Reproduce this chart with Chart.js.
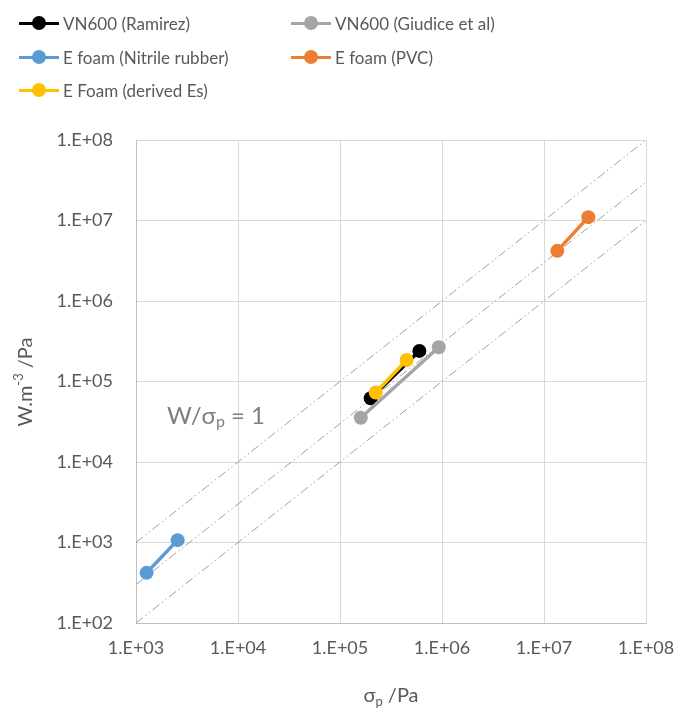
<!DOCTYPE html>
<html>
<head>
<meta charset="utf-8">
<script src="https://cdn.jsdelivr.net/npm/chart.js@4/dist/chart.umd.min.js"></script>
<style>
  html, body { margin: 0; padding: 0; background: #fff; }
  #wrap { position: relative; width: 683px; height: 709px; }
  #legend { position: absolute; left: 0; top: 0; width: 683px; height: 110px; font-family: Lato, "Open Sans", sans-serif; font-size: 17px; color: #595959; }
  .item { position: absolute; height: 20px; display: flex; align-items: center; }
  .mk { position: relative; width: 40px; height: 20px; margin-right: 4px; }
  .mk .ln { position: absolute; left: 0; right: 0; top: 8.5px; height: 3px; }
  .mk .dt { position: absolute; left: 13px; top: 3px; width: 14px; height: 14px; border-radius: 50%; }
</style>
</head>
<body>
<div id="wrap">
  <canvas id="c" width="683" height="709"></canvas>
  <div id="legend"></div>
</div>
<script>
// ---- data ----
const seriesNames = ['VN600 (Ramirez)', 'VN600 (Giudice et al)', 'E foam (Nitrile rubber)', 'E foam (PVC)', 'E Foam (derived Es)'];
const seriesColors = ['#000000', '#a5a5a5', '#5b9bd5', '#ed7d31', '#ffc000'];

const ramirezX = [2.0e5, 6.0e5];
const ramirezY = [6.2e4, 2.4e5];
const giudiceX = [1.6e5, 9.3e5];
const giudiceY = [3.55e4, 2.66e5];
const nitrileX = [1.27e3, 2.56e3];
const nitrileY = [4.2e2, 1.07e3];
const pvcX = [1.35e7, 2.72e7];
const pvcY = [4.2e6, 1.1e7];
const derivedX = [2.24e5, 4.5e5];
const derivedY = [7.3e4, 1.85e5];

// guide lines W/sigma = 1, 0.3, 0.1
const guideX = [1e3, 1e8];
const guide1Y = [1e3, 1e8];
const guide03Y = [3e2, 3e7];
const guide01Y = [1e2, 1e7];

const xTicks = [1e3, 1e4, 1e5, 1e6, 1e7, 1e8];
const xTickLabels = ['1.E+03', '1.E+04', '1.E+05', '1.E+06', '1.E+07', '1.E+08'];
const yTicks = [1e2, 1e3, 1e4, 1e5, 1e6, 1e7, 1e8];
const yTickLabels = ['1.E+02', '1.E+03', '1.E+04', '1.E+05', '1.E+06', '1.E+07', '1.E+08'];

// ---- legend (HTML) ----
const legendPos = [[19, 13], [291, 13], [19, 47], [291, 47], [19, 80]];
const legendEl = document.getElementById('legend');
seriesNames.forEach((n, i) => {
  const d = document.createElement('div');
  d.className = 'item';
  d.style.left = legendPos[i][0] + 'px';
  d.style.top = legendPos[i][1] + 'px';
  d.innerHTML = '<span class="mk"><span class="ln" style="background:' + seriesColors[i] + '"></span><span class="dt" style="background:' + seriesColors[i] + '"></span></span><span>' + n + '</span>';
  legendEl.appendChild(d);
});

const zip = (xs, ys) => xs.map((x, i) => ({ x: x, y: ys[i] }));
const seriesData = [zip(ramirezX, ramirezY), zip(giudiceX, giudiceY), zip(nitrileX, nitrileY), zip(pvcX, pvcY), zip(derivedX, derivedY)];

const datasets = seriesData.map((d, i) => ({
  label: seriesNames[i],
  data: d,
  showLine: true,
  borderColor: seriesColors[i],
  backgroundColor: seriesColors[i],
  borderWidth: 3.5,
  pointRadius: 7,
  pointHoverRadius: 7,
  pointBorderWidth: 0,
  order: 5 - i
}));
[guide1Y, guide03Y, guide01Y].forEach(gy => {
  datasets.push({
    label: '',
    data: zip(guideX, gy),
    showLine: true,
    borderColor: '#a0a0a0',
    borderWidth: 1,
    borderDash: [9, 3, 1.5, 3, 1.5, 3],
    pointRadius: 0,
    order: 20
  });
});

const textPlugin = {
  id: 'texts',
  afterDraw(chart) {
    const ctx = chart.ctx;
    const ca = chart.chartArea;
    ctx.save();
    ctx.fillStyle = '#595959';
    ctx.textBaseline = 'alphabetic';
    ctx.textAlign = 'left';
    // x axis title: sigma_p /Pa
    const xt1 = 'σ', xt2 = 'p', xt3 = ' /Pa';
    ctx.font = '20px Lato, sans-serif';
    const w1 = ctx.measureText(xt1).width;
    ctx.font = '13px Lato, sans-serif';
    const w2 = ctx.measureText(xt2).width;
    ctx.font = '20px Lato, sans-serif';
    const w3 = ctx.measureText(xt3).width;
    let x0 = (ca.left + ca.right) / 2 - (w1 + w2 + w3) / 2;
    const by = 702;
    ctx.fillText(xt1, x0, by);
    ctx.font = '13px Lato, sans-serif';
    ctx.fillText(xt2, x0 + w1, by + 4);
    ctx.font = '20px Lato, sans-serif';
    ctx.fillText(xt3, x0 + w1 + w2, by);

    // y axis title
    ctx.save();
    ctx.translate(32, 382);
    ctx.rotate(-Math.PI / 2);
    const y1 = 'W.m', y2 = '-3', y3 = ' /Pa';
    ctx.font = '20px Lato, sans-serif';
    const a1 = ctx.measureText(y1).width;
    ctx.font = '13px Lato, sans-serif';
    const a2 = ctx.measureText(y2).width;
    ctx.font = '20px Lato, sans-serif';
    const a3 = ctx.measureText(y3).width;
    let s = -(a1 + a2 + a3) / 2;
    ctx.fillText(y1, s, 0);
    ctx.font = '13px Lato, sans-serif';
    ctx.fillText(y2, s + a1, -9);
    ctx.font = '20px Lato, sans-serif';
    ctx.fillText(y3, s + a1 + a2, 0);
    ctx.restore();

    // annotation W/sigma_p = 1
    ctx.fillStyle = '#7f7f7f';
    const t1 = 'W/σ', t2 = 'p', t3 = ' = 1';
    ctx.font = '24px Lato, sans-serif';
    const b1 = ctx.measureText(t1).width;
    ctx.font = '16px Lato, sans-serif';
    const b2 = ctx.measureText(t2).width;
    let ax = 167, ay = 424;
    ctx.font = '24px Lato, sans-serif';
    ctx.fillText(t1, ax, ay);
    ctx.font = '16px Lato, sans-serif';
    ctx.fillText(t2, ax + b1, ay + 3);
    ctx.font = '24px Lato, sans-serif';
    ctx.fillText(t3, ax + b1 + b2, ay);
    ctx.restore();
  }
};

new Chart(document.getElementById('c'), {
  type: 'scatter',
  data: { datasets: datasets },
  options: {
    responsive: false,
    animation: false,
    events: [],
    layout: { padding: { left: 0, top: 140, right: 37, bottom: 0 } },
    plugins: { legend: { display: false }, tooltip: { enabled: false } },
    scales: {
      x: {
        type: 'logarithmic',
        min: 1e3, max: 1e8,
        afterBuildTicks: (sc) => { sc.ticks = xTicks.map(v => ({ value: v })); },
        afterFit: (sc) => { sc.height = 86; sc.paddingLeft = 0; sc.paddingRight = 0; },
        ticks: {
          autoSkip: false, maxRotation: 0,
          padding: 14,
          color: '#595959',
          font: { family: 'Lato, sans-serif', size: 18 },
          callback: (v, i) => xTickLabels[i]
        },
        grid: { color: '#d9d9d9', lineWidth: 1, drawTicks: false },
        border: { color: '#bfbfbf', width: 1 }
      },
      y: {
        type: 'logarithmic',
        min: 1e2, max: 1e8,
        afterBuildTicks: (sc) => { sc.ticks = yTicks.map(v => ({ value: v })); },
        afterFit: (sc) => { sc.width = 136; sc.paddingTop = 0; sc.paddingBottom = 0; },
        ticks: {
          autoSkip: false,
          padding: 23,
          color: '#595959',
          font: { family: 'Lato, sans-serif', size: 18 },
          callback: (v, i) => yTickLabels[i]
        },
        grid: { color: '#d9d9d9', lineWidth: 1, drawTicks: false },
        border: { color: '#bfbfbf', width: 1 }
      }
    }
  },
  plugins: [textPlugin]
});
</script>
</body>
</html>
